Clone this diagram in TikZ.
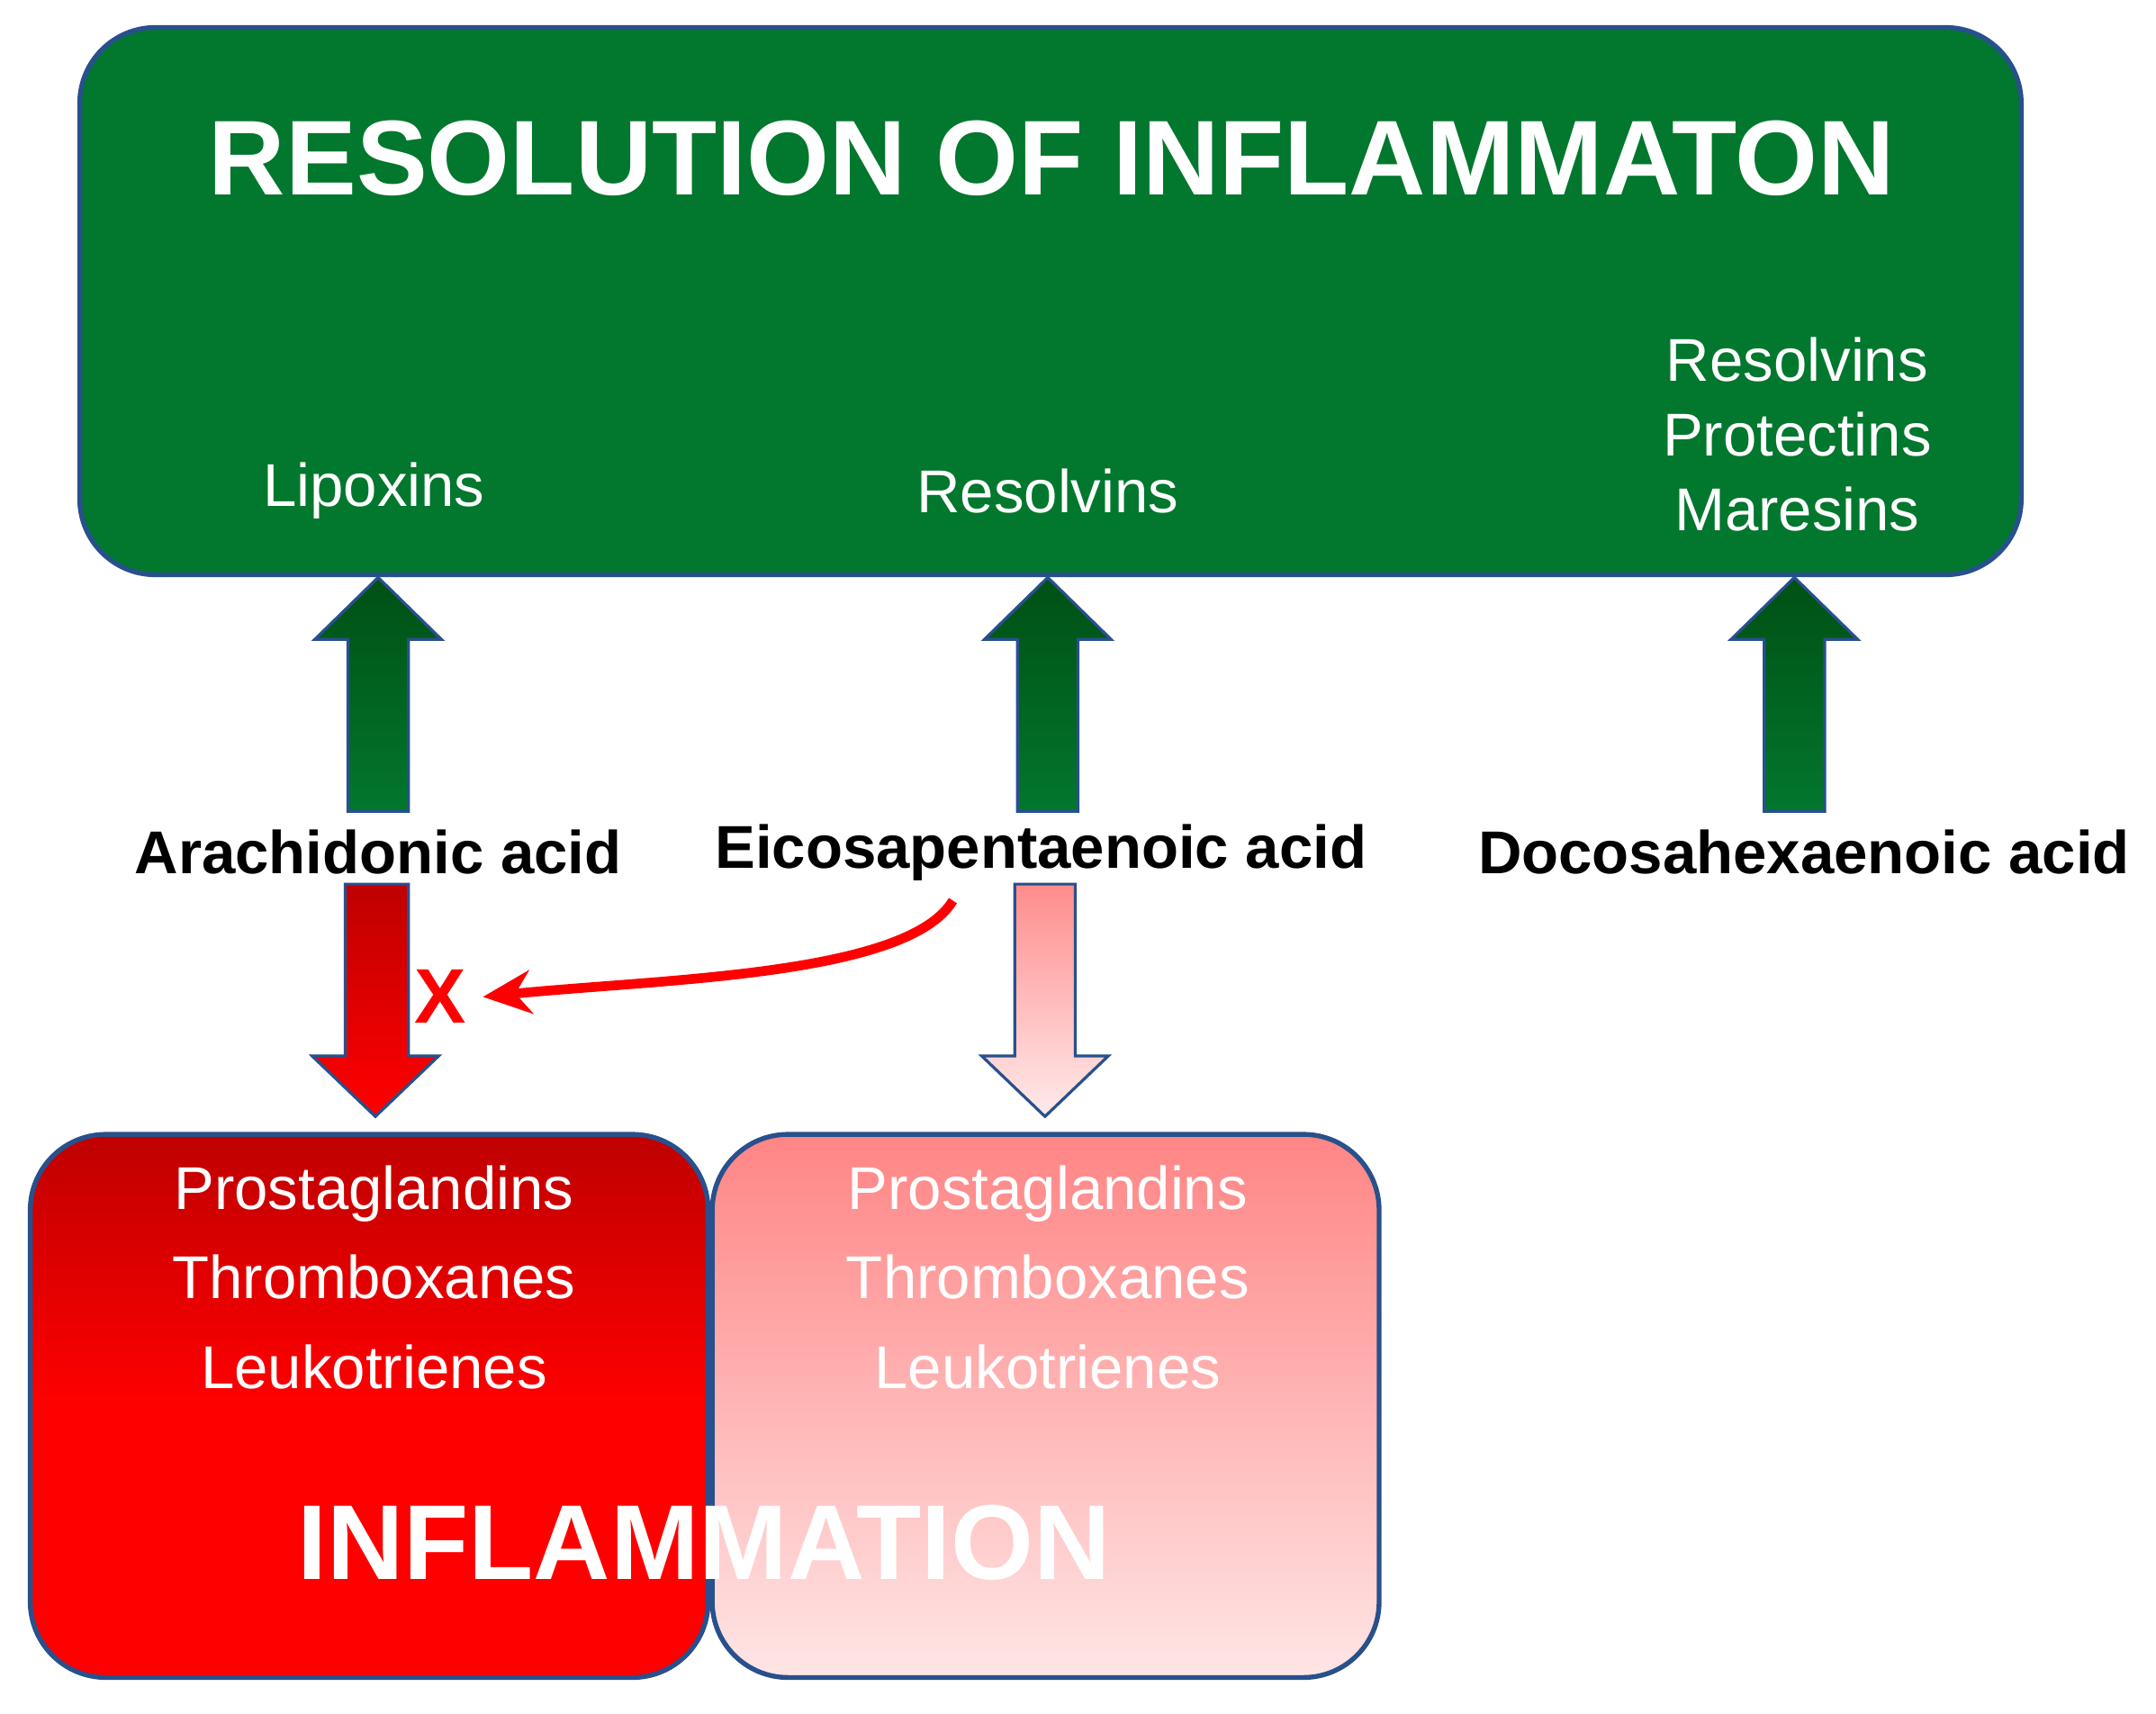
\documentclass[tikz,border=0pt]{standalone}
\usepackage{fontspec}
\setmainfont{Liberation Sans}
\usetikzlibrary{arrows.meta}
\definecolor{boxgreen}{RGB}{2,119,46}
\definecolor{darkgreen}{RGB}{0,80,20}
\definecolor{edgeblue}{RGB}{40,80,140}
\begin{document}
\begin{tikzpicture}[x=0.01cm,y=-0.01cm,
  big/.style={font=\fontsize{22}{26}\selectfont\bfseries,text=white},
  mid/.style={font=\fontsize{12.5}{15.5}\selectfont,text=white,align=center},
  acid/.style={font=\fontsize{12.5}{15}\selectfont\bfseries,text=black},
  box/.style={draw=edgeblue,line width=1pt,rounded corners=0.55cm}]
\useasboundingbox (0,0) rectangle (1568,1246);
% green box
\path[box,fill=boxgreen] (58,20) rectangle (1470,418);
\node[big] (title) at (765,115) {RESOLUTION OF INFLAMMATON};
\node[mid] (lip) at (272,357) {Lipoxins};
\node[mid] (res) at (762,357) {Resolvins};
\node[mid] (rpm) at (1307,316) {Resolvins\\Protectins\\Maresins};
% up arrows
\foreach \x in {275,762,1305}{
  \path[top color=darkgreen,bottom color=boxgreen,draw=edgeblue,line width=0.6pt]
   (\x-22,590) -- (\x-22,465) -- (\x-46,465) -- (\x,420) -- (\x+46,465) -- (\x+22,465) -- (\x+22,590) -- cycle;}
% acids
\node[acid] (aa) at (275,620) {Arachidonic acid};
\node[acid] (epa) at (757,620) {Eicosapentaenoic acid};
\node[acid] (dha) at (1312,620) {Docosahexaenoic acid};
% down arrows
\path[top color=red!75!black,bottom color=red,draw=edgeblue,line width=0.6pt]
 (251,643) -- (297,643) -- (297,768) -- (319,768) -- (273,812) -- (227,768) -- (251,768) -- cycle;
\path[top color=red!45!white,bottom color=red!8!white,draw=edgeblue,line width=0.6pt]
 (738,643) -- (782,643) -- (782,768) -- (806,768) -- (760,812) -- (714,768) -- (738,768) -- cycle;
% inhibition
\node[font=\fontsize{16}{18}\selectfont\bfseries,text=red] (x) at (320,725) {X};
\coordinate (cs) at (693,655);
\draw[red,line width=2pt,-{Stealth[length=10pt,width=9pt]}] (cs) .. controls (660,710) and (480,712) .. (x.east);
% bottom boxes
\path[box,top color=red!75!black,bottom color=red,middle color=red] (22,825) rectangle (515,1220);
\path[box,top color=red!48!white,bottom color=red!10!white] (518,825) rectangle (1003,1220);
\node[mid] (l1) at (272,929) {Prostaglandins\\[3pt]Thromboxanes\\[3pt]Leukotrienes};
\node[mid] (l2) at (762,929) {Prostaglandins\\[3pt]Thromboxanes\\[3pt]Leukotrienes};
\node[big] (infl) at (512,1122) {INFLAMMATION};
\end{tikzpicture}
\end{document}
